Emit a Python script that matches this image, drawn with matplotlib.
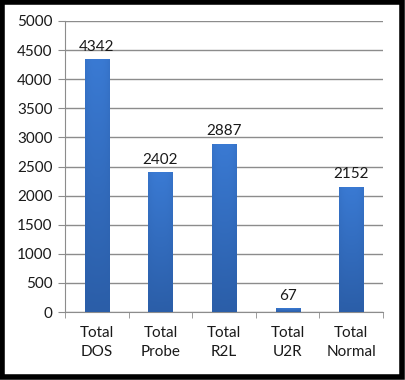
import matplotlib
matplotlib.use("Agg")
import matplotlib.pyplot as plt
import numpy as np
from matplotlib.colors import LinearSegmentedColormap
from matplotlib.patches import Rectangle

# data
categories = ["Total\nDOS", "Total\nProbe", "Total\nR2L", "Total\nU2R", "Total\nNormal"]
values = [4342, 2402, 2887, 67, 2152]

plt.rcParams['font.family'] = ['Lato', 'DejaVu Sans']

fig = plt.figure(figsize=(4.05, 3.8), dpi=100)
ax = fig.add_axes([65/405, 1-312/380, (383-65)/405, (312-21)/380])

x = np.arange(len(values))
bw = 0.38
bars = ax.bar(x, values, width=bw, color="none", zorder=3)

# vertical gradient for each bar (light top -> darker bottom)
cmap = LinearSegmentedColormap.from_list("bluegrad", ["#2b5ea8", "#3a7ad3"])
grad = np.linspace(0, 1, 256).reshape(-1, 1)
hgrad = 1 - 0.25*np.abs(np.linspace(-1, 1, 64))**3
img = grad * hgrad.reshape(1, -1)
for b in bars:
    bx, by = b.get_x(), b.get_y()
    w, h = b.get_width(), b.get_height()
    im = ax.imshow(img, cmap=cmap, vmin=0, vmax=1, aspect="auto", origin="lower",
                   extent=[bx, bx + w, by, by + h], zorder=3)
    clip = Rectangle((bx, by), w, h, transform=ax.transData)
    im.set_clip_path(clip)

for xi, v in zip(x, values):
    ax.annotate(str(v), (xi, v), xytext=(0, 4), textcoords="offset points",
                ha="center", va="bottom", fontsize=11, color="#1a1a1a")

ax.set_xlim(-0.5, len(values) - 0.5)
ax.set_ylim(0, 5000)
ax.set_yticks(np.arange(0, 5001, 500))
ax.yaxis.grid(True, color="#8c8c8c", linewidth=1)
ax.set_axisbelow(True)

ax.set_xticks(x)
ax.set_xticklabels(categories, fontsize=11, linespacing=1.45, color="#1a1a1a")
ax.set_xticks(np.arange(-0.5, len(values)), minor=True)
ax.tick_params(axis="x", which="major", length=0, pad=10)
ax.tick_params(axis="x", which="minor", length=4, color="#8c8c8c")
ax.tick_params(axis="y", length=5, color="#8c8c8c", labelsize=11, labelcolor="#1a1a1a", pad=4)

for s in ["top", "right"]:
    ax.spines[s].set_visible(False)
for s in ["left", "bottom"]:
    ax.spines[s].set_color("#8c8c8c")

# black frame round the figure
fig.patches.append(Rectangle((0.005, 0.007), 0.988, 0.987, transform=fig.transFigure,
                             fill=False, edgecolor="black", linewidth=4))

fig.savefig("out.png", dpi=100)
